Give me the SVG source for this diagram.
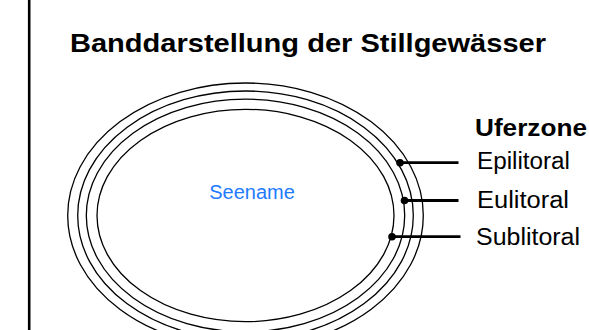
<svg xmlns="http://www.w3.org/2000/svg" width="589" height="330" viewBox="0 0 589 330">
<style>
.ring{fill:none;stroke:#000;stroke-width:1.3}
.lead{stroke:#000;stroke-width:2.8}
.dot{fill:#000}
.t{font-family:"Liberation Sans",Arial,sans-serif;fill:#000}
.b{font-weight:bold}
</style>
<rect width="589" height="330" fill="#fff"/>
<line x1="29.2" y1="0" x2="29.2" y2="330" stroke="#000" stroke-width="2.6"/>
<text class="t b" x="70" y="51.5" font-size="26" textLength="476" lengthAdjust="spacingAndGlyphs">Banddarstellung der Stillgewässer</text>
<g id="lake">
<ellipse class="ring" cx="245.5" cy="215.5" rx="177.8" ry="132.5"/>
<ellipse class="ring" cx="245.5" cy="215.5" rx="167.8" ry="124.5"/>
<ellipse class="ring" cx="245.5" cy="215.5" rx="159.2" ry="116.3"/>
<ellipse class="ring" cx="245.5" cy="215.5" rx="148.5" ry="106.2"/>
<text x="252" y="199.3" font-size="20" text-anchor="middle" fill="#1f7bff" font-family="Liberation Sans, Arial, sans-serif">Seename</text>
</g>
<g id="connectors">
<line class="lead" x1="400" y1="162.7" x2="458.5" y2="162.7"/>
<circle class="dot" cx="400" cy="162.7" r="3.8"/>
<line class="lead" x1="404.5" y1="200.5" x2="458.5" y2="200.5"/>
<circle class="dot" cx="404.5" cy="200.5" r="3.8"/>
<line class="lead" x1="392" y1="236.7" x2="460.5" y2="236.7"/>
<circle class="dot" cx="392" cy="236.7" r="3.8"/>
</g>
<g id="legend">
<text class="t b" x="475" y="136" font-size="23" textLength="112" lengthAdjust="spacingAndGlyphs">Uferzone</text>
<text class="t" x="477" y="169" font-size="23.5" textLength="93" lengthAdjust="spacingAndGlyphs">Epilitoral</text>
<text class="t" x="477" y="208.3" font-size="23.5" textLength="92" lengthAdjust="spacingAndGlyphs">Eulitoral</text>
<text class="t" x="476" y="245" font-size="23.5" textLength="104" lengthAdjust="spacingAndGlyphs">Sublitoral</text>
</g>
</svg>
